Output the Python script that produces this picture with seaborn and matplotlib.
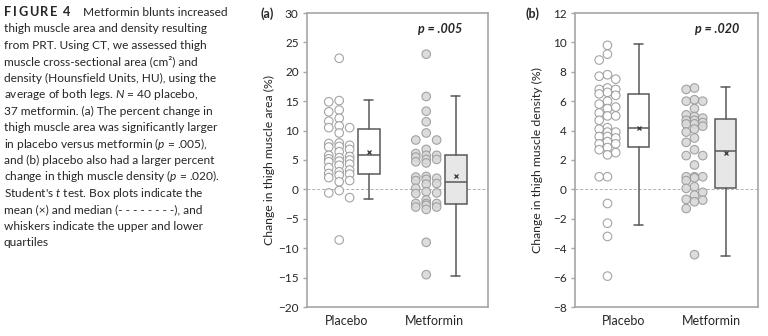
import numpy as np
import pandas as pd
import matplotlib
matplotlib.use("Agg")
import matplotlib.pyplot as plt
import seaborn as sns

# ---------------- data ----------------
groups = ["Placebo", "Metformin"]

area_placebo = [22.3, 15.1, 14.9, 13.5, 13.2, 12.1, 11.6, 10.8, 10.5, 10.5,
                9.6, 7.9, 7.8, 7.5, 7.3, 7.2, 6.8, 6.4, 5.8, 5.6,
                5.4, 5.2, 5.0, 4.8, 4.7, 4.3, 4.1, 3.7, 3.3, 3.0,
                2.7, 2.6, 2.4, 2.0, 1.5, 1.3, -0.2, -0.6, -1.4, -8.6]
area_metformin = [23.0, 15.8, 13.3, 11.5, 9.6, 8.4, 8.4, 6.8, 6.1, 5.8,
                  5.8, 5.5, 5.1, 5.1, 4.7, 4.5, 2.2, 2.1, 1.9, 1.7,
                  1.5, 1.0, 0.9, 0.2, -0.4, -0.6, -0.7, -1.8, -2.4, -2.4,
                  -2.4, -2.7, -3.0, -3.0, -3.4, -9.0, -14.5]
dens_placebo = [9.8, 9.2, 8.8, 7.8, 7.7, 7.5, 6.9, 6.8, 6.8, 6.6,
                6.5, 6.4, 6.0, 5.8, 5.6, 5.5, 5.2, 5.0, 5.0, 4.7,
                4.2, 4.1, 3.9, 3.9, 3.6, 3.6, 3.5, 3.25, 3.1, 3.1,
                2.85, 2.7, 2.5, 2.35, 0.86, 0.86, -0.96, -2.3, -3.2, -5.9]
dens_metformin = [6.9, 6.8, 6.1, 6.0, 6.0, 5.5, 5.07, 4.96, 4.85, 4.7,
                  4.7, 4.55, 4.46, 4.45, 4.3, 4.1, 3.9, 3.5, 3.2, 2.7,
                  2.3, 2.3, 1.66, 0.86, 0.86, 0.86, 0.78, 0.6, 0.18, 0.07,
                  -0.2, -0.39, -0.68, -0.73, -0.84, -1.3, -4.44]

# box statistics: whisker low, Q1, median, Q3, whisker high, mean
area_box_placebo = dict(whislo=-1.65, q1=2.6, med=5.8, q3=10.3, whishi=15.2, mean=6.4)
area_box_metformin = dict(whislo=-14.8, q1=-2.5, med=1.3, q3=5.8, whishi=15.8, mean=2.3)
dens_box_placebo = dict(whislo=-2.44, q1=2.9, med=4.16, q3=6.5, whishi=9.9, mean=4.16)
dens_box_metformin = dict(whislo=-4.5, q1=0.07, med=2.6, q3=4.78, whishi=6.96, mean=2.5)

panel_letters = ["(a)", "(b)"]
p_labels = ["p = .005", "p = .020"]
y_labels = ["Change in thigh muscle area (%)", "Change in thigh muscle density (%)"]
y_ticks_a = list(range(-20, 31, 5))
y_ticks_b = list(range(-8, 13, 2))

figure_label = "FIGURE 4"
caption_first = "Metformin blunts increased"
caption_lines = [
    "thigh muscle area and density resulting",
    "from PRT. Using CT, we assessed thigh",
    "muscle cross-sectional area (cm\u00b2) and",
    "density (Hounsfield Units, HU), using the",
    "average of both legs. $N$ = 40 placebo,",
    "37 metformin. (a) The percent change in",
    "thigh muscle area was significantly larger",
    "in placebo versus metformin ($p$ = .005),",
    "and (b) placebo also had a larger percent",
    "change in thigh muscle density ($p$ = .020).",
    "Student's $t$ test. Box plots indicate the",
    "mean (\u00d7) and median (- - - - - - - -), and",
    "whiskers indicate the upper and lower",
    "quartiles",
]

# ---------------- style ----------------
sns.set_theme(style="white")
plt.rcParams["font.family"] = ["Lato", "DejaVu Sans"]
plt.rcParams["mathtext.fontset"] = "custom"
plt.rcParams["mathtext.rm"] = "Lato"
plt.rcParams["mathtext.it"] = "Lato:italic"
plt.rcParams["mathtext.bf"] = "Lato:bold"

SPINE = "#a6a6a6"
EDGE = "#595959"
PT_EDGE = "#9a9a9a"
TXT = "#262626"

fig = plt.figure(figsize=(7.68, 3.36), dpi=100)
W, H = 768, 336


def axes_px(x0, x1, y0, y1):
    return fig.add_axes([x0 / W, 1 - y1 / H, (x1 - x0) / W, (y1 - y0) / H])


def column_layout(values, sep):
    """Assign each point to one of three columns so close values do not overlap."""
    vals = np.asarray(values, dtype=float)
    order = np.argsort(-vals, kind="stable")
    placed = {0: [], -1: [], 1: []}
    cols = np.zeros(len(vals))
    for i in order:
        v = vals[i]
        dists = {c: min((abs(v - u) for u in placed[c]), default=np.inf) for c in (0, -1, 1)}
        choice = None
        for c in (0, -1, 1):
            if dists[c] >= sep:
                choice = c
                break
        if choice is None:
            choice = max((0, -1, 1), key=lambda c: dists[c])
        placed[choice].append(v)
        cols[i] = choice
    return cols


panels = [
    dict(rect=(307, 488, 13, 307), data=(area_placebo, area_metformin),
         boxes=(area_box_placebo, area_box_metformin), ylim=(-20, 30), yticks=y_ticks_a,
         xlim=(-0.46, 1.62), pt_off=-0.09, col_sp=0.12, box_off=0.25, sep=1.25,
         letter_xy=(267, 14), p_xy=(440, 29), ylab_x=269),
    dict(rect=(575, 758, 13, 307), data=(dens_placebo, dens_metformin),
         boxes=(dens_box_placebo, dens_box_metformin), ylim=(-8, 12), yticks=y_ticks_b,
         xlim=(-0.563, 1.54), pt_off=-0.19, col_sp=0.095, box_off=0.167, sep=0.5,
         letter_xy=(532, 14), p_xy=(717, 29), ylab_x=537),
]

face_pts = {"Placebo": "#ffffff", "Metformin": "#d9d9d9"}
face_box = ["#ffffff", "#e7e7e7"]

for k, P in enumerate(panels):
    ax = axes_px(*P["rect"])
    rows = []
    for gi, (g, vals) in enumerate(zip(groups, P["data"])):
        cols = column_layout(vals, P["sep"])
        for v, c in zip(vals, cols):
            rows.append(dict(group=g, value=v, x=gi + P["pt_off"] + c * P["col_sp"]))
    df = pd.DataFrame(rows)
    sns.scatterplot(data=df, x="x", y="value", hue="group", palette=face_pts,
                    edgecolor=PT_EDGE, linewidth=0.8, s=38, alpha=0.9,
                    legend=False, ax=ax, zorder=3)

    stats = []
    for g, b in zip(groups, P["boxes"]):
        d = dict(b)
        d["fliers"] = []
        d["label"] = g
        stats.append(d)
    bp = ax.bxp(stats, positions=[i + P["box_off"] for i in range(len(groups))],
                widths=0.25, capwidths=0.1, patch_artist=True, showmeans=True,
                showfliers=False, manage_ticks=False,
                boxprops=dict(edgecolor=EDGE, linewidth=1.1),
                medianprops=dict(color=EDGE, linewidth=1.1),
                whiskerprops=dict(color=EDGE, linewidth=1.1),
                capprops=dict(color=EDGE, linewidth=1.1),
                meanprops=dict(marker="x", markersize=3, markeredgecolor="#333333",
                               markeredgewidth=0.9))
    for patch, fc in zip(bp["boxes"], face_box):
        patch.set_facecolor(fc)
        patch.set_zorder(2)

    ax.axhline(0, color="#b0b0b0", lw=0.7, ls=(0, (3, 2)), zorder=1)

    ax.set_xlim(*P["xlim"])
    ax.set_ylim(*P["ylim"])
    ax.set_yticks(P["yticks"])
    ax.set_xticks(range(len(groups)))
    ax.set_xticklabels(groups)
    ax.set_xlabel("")
    ax.set_ylabel("")
    for sp in ax.spines.values():
        sp.set_visible(True)
        sp.set_color(SPINE)
        sp.set_linewidth(1.2)
    ax.tick_params(axis="y", which="both", left=True, length=3, width=1.0,
                   color=SPINE, labelsize=8.5, labelcolor=TXT, pad=3)
    ax.tick_params(axis="x", length=0, labelsize=9, labelcolor=TXT, pad=6)

    fig.text(P["ylab_x"] / W, 1 - 160 / H, y_labels[k], rotation=90, ha="center",
             va="center", fontsize=8.8, color=TXT)
    fig.text(P["letter_xy"][0] / W, 1 - P["letter_xy"][1] / H, panel_letters[k],
             ha="center", va="center", fontsize=9, fontweight="bold", color=TXT)
    fig.text(P["p_xy"][0] / W, 1 - P["p_xy"][1] / H, p_labels[k], ha="center",
             va="center", fontsize=9, fontweight="bold", fontstyle="italic", color=TXT)

# ---------------- caption ----------------
CAP = 8.6
renderer = fig.canvas.get_renderer()
xpos = 4.0
for ch in figure_label:
    t = fig.text(xpos / W, 1 - 16 / H, ch, ha="left", va="baseline", fontsize=9.2,
                 fontweight="bold", color=TXT)
    if ch == " ":
        xpos += 4.5
    else:
        xpos += t.get_window_extent(renderer).width + 1.6
fig.text(83 / W, 1 - 16 / H, caption_first, ha="left", va="baseline",
         fontsize=CAP, color=TXT)
for i, line in enumerate(caption_lines):
    yb = 16 + 16.45 * (i + 1)
    fig.text(4 / W, 1 - yb / H, line, ha="left", va="baseline", fontsize=CAP, color=TXT)

fig.savefig("out.png", dpi=100, facecolor="white")
